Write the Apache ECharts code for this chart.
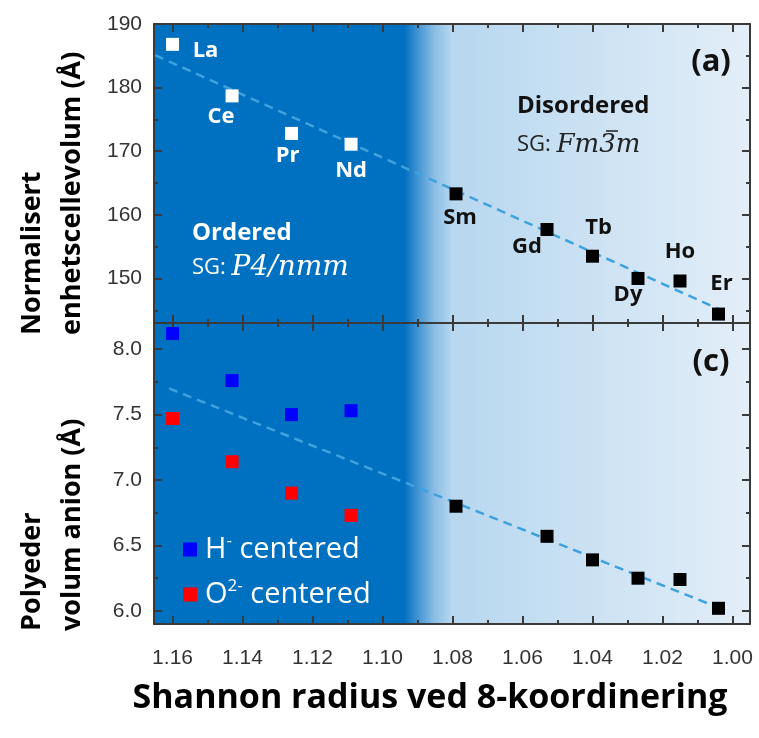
<!DOCTYPE html>
<html>
<head>
<meta charset="utf-8">
<script src="https://cdn.jsdelivr.net/npm/echarts@6/dist/echarts.min.js"></script>
<style>html,body{margin:0;padding:0;background:#fff}#c{width:759px;height:738px}</style>
</head>
<body>
<div id="c"></div>
<script>
// ---------------- data ----------------
const elements = ['La', 'Ce', 'Pr', 'Nd', 'Sm', 'Gd', 'Tb', 'Dy', 'Ho', 'Er'];
const shannonRadius = [1.160, 1.143, 1.126, 1.109, 1.079, 1.053, 1.040, 1.027, 1.015, 1.004];
const cellVolume = [186.8, 178.7, 172.8, 171.1, 163.3, 157.7, 153.5, 150.0, 149.6, 144.4];
const orderedCount = 4; // La..Nd are ordered (P4/nmm)

const hCentered = [8.12, 7.76, 7.50, 7.53];          // La..Nd
const oCentered = [7.47, 7.14, 6.90, 6.73];          // La..Nd
const anionDisordered = [6.80, 6.57, 6.39, 6.25, 6.24, 6.02]; // Sm..Er

const fitTopX = [1.165, 1.004];
const fitTopY = [185.1, 145.2];
const fitBottomX = [1.161, 1.0045];
const fitBottomY = [7.70, 6.03];

const xMajorTicks = [1.16, 1.14, 1.12, 1.10, 1.08, 1.06, 1.04, 1.02, 1.00];
const xMinorTicks = [1.15, 1.13, 1.11, 1.09, 1.07, 1.05, 1.03, 1.01];
const yTopMajorTicks = [150, 160, 170, 180, 190];
const yTopMinorTicks = [145, 155, 165, 175, 185];
const yBotMajorTicks = [6.0, 6.5, 7.0, 7.5, 8.0];
const yBotMinorTicks = [6.25, 6.75, 7.25, 7.75];

const xRange = [0.995, 1.1653];
const yTopRange = [143, 190];
const yBotRange = [5.9, 8.2];

// ---------------- styling / layout ----------------
const labelOffsets = {
  La: [33, 6], Ce: [-11, 21], Pr: [-4, 22], Nd: [0, 26], Sm: [4, 24],
  Gd: [-20, 17], Tb: [6, -28], Dy: [-10, 16], Ho: [0, -29], Er: [3, -30]
};
const AXIS_COLOR = '#3a3a3a';
const LABEL_FONT = 'Liberation Sans, Arial, sans-serif';
const TEXT_FONT = '"Open Sans", Lato, sans-serif';
const MATH_FONT = '"DejaVu Serif", "Liberation Serif", serif';
const fitColor = '#3ea2de';

const bgGradient = new echarts.graphic.LinearGradient(0, 0, 1, 0, [
  { offset: 0, color: '#0070c0' },
  { offset: 0.42, color: '#0070c0' },
  { offset: 0.435, color: '#2d88cd' },
  { offset: 0.47, color: '#8abde4' },
  { offset: 0.5, color: '#b7d7ef' },
  { offset: 1, color: '#e3eef8' }
]);

const tickLine = { color: AXIS_COLOR, width: 2 };

function xAxesFor(gi, showLabels) {
  const base = {
    gridIndex: gi, type: 'value', inverse: true, min: xRange[0], max: xRange[1],
    splitLine: { show: false }, axisLine: { show: false, onZero: false }
  };
  return [
    Object.assign({}, base, {
      position: 'bottom',
      axisLine: { show: true, onZero: false, lineStyle: tickLine },
      axisTick: { show: true, inside: true, length: 8, customValues: xMajorTicks, lineStyle: tickLine },
      axisLabel: { show: showLabels, customValues: xMajorTicks, margin: 24, formatter: v => v.toFixed(2),
        color: '#333', fontSize: 21, fontFamily: LABEL_FONT }
    }),
    Object.assign({}, base, {
      position: 'bottom',
      axisTick: { show: true, inside: true, length: 4, customValues: xMinorTicks, lineStyle: tickLine },
      axisLabel: { show: false }
    }),
    Object.assign({}, base, {
      position: 'top',
      axisLine: { show: true, onZero: false, lineStyle: tickLine },
      axisTick: { show: true, inside: true, length: 8, customValues: xMajorTicks, lineStyle: tickLine },
      axisLabel: { show: false }
    }),
    Object.assign({}, base, {
      position: 'top',
      axisTick: { show: true, inside: true, length: 4, customValues: xMinorTicks, lineStyle: tickLine },
      axisLabel: { show: false }
    })
  ];
}

function yAxesFor(gi, range, major, minor, digits) {
  const base = {
    gridIndex: gi, type: 'value', min: range[0], max: range[1], scale: true,
    splitLine: { show: false }, axisLine: { show: false, onZero: false }
  };
  return [
    Object.assign({}, base, {
      position: 'left',
      axisLine: { show: true, onZero: false, lineStyle: tickLine },
      axisTick: { show: true, inside: true, length: 8, customValues: major, lineStyle: tickLine },
      axisLabel: { show: true, customValues: major, margin: 12, formatter: v => v.toFixed(digits),
        color: '#333', fontSize: 21, fontFamily: LABEL_FONT }
    }),
    Object.assign({}, base, {
      position: 'left',
      axisTick: { show: true, inside: true, length: 4, customValues: minor, lineStyle: tickLine },
      axisLabel: { show: false }
    }),
    Object.assign({}, base, {
      position: 'right',
      axisLine: { show: true, onZero: false, lineStyle: tickLine },
      axisTick: { show: true, inside: true, length: 8, customValues: major, lineStyle: tickLine },
      axisLabel: { show: false }
    }),
    Object.assign({}, base, {
      position: 'right',
      axisTick: { show: true, inside: true, length: 4, customValues: minor, lineStyle: tickLine },
      axisLabel: { show: false }
    })
  ];
}

function pointItems(from, to, values, color) {
  const out = [];
  for (let i = from; i < to; i++) {
    out.push({
      value: [shannonRadius[i], values[i - from]],
      name: elements[i],
      label: { offset: labelOffsets[elements[i]], color: color }
    });
  }
  return out;
}

const pointLabel = {
  show: true, position: 'inside', formatter: p => p.name, opacity: 1,
  fontSize: 22, fontWeight: 'bold', fontFamily: TEXT_FONT
};

const orderedRadius = shannonRadius.slice(0, orderedCount);
const disorderedRadius = shannonRadius.slice(orderedCount);

const option = {
  animation: false,
  backgroundColor: '#ffffff',
  grid: [
    { left: 154, top: 24, width: 596, height: 299, show: true, backgroundColor: bgGradient, borderWidth: 0 },
    { left: 154, top: 323, width: 596, height: 301, show: true, backgroundColor: bgGradient, borderWidth: 0 }
  ],
  xAxis: [].concat(xAxesFor(0, false), xAxesFor(1, true)),
  yAxis: [].concat(
    yAxesFor(0, yTopRange, yTopMajorTicks, yTopMinorTicks, 0),
    yAxesFor(1, yBotRange, yBotMajorTicks, yBotMinorTicks, 1)
  ),
  legend: {
    data: ['H- centered', 'O2- centered'],
    orient: 'vertical', left: 178, top: 528,
    itemWidth: 14, itemHeight: 14, itemGap: 12, icon: 'rect',
    formatter: n => n === 'H- centered' ? 'H{sup|-} centered' : 'O{sup|2-} centered',
    textStyle: {
      color: '#ffffff', fontSize: 29, fontFamily: TEXT_FONT, lineHeight: 33, padding: [0, 0, 0, 3],
      rich: { sup: { fontSize: 17, color: '#ffffff', fontFamily: TEXT_FONT, verticalAlign: 'top', lineHeight: 19 } }
    }
  },
  series: [
    {
      type: 'line', xAxisIndex: 0, yAxisIndex: 0, silent: true, showSymbol: false, z: 2,
      data: fitTopX.map((x, i) => [x, fitTopY[i]]),
      lineStyle: { color: fitColor, width: 2.5, type: [9, 6] }
    },
    {
      type: 'scatter', name: 'ordered', xAxisIndex: 0, yAxisIndex: 0, z: 3,
      symbol: 'rect', symbolSize: 13, itemStyle: { color: '#ffffff', opacity: 1 },
      label: pointLabel,
      data: pointItems(0, orderedCount, cellVolume.slice(0, orderedCount), '#ffffff')
    },
    {
      type: 'scatter', name: 'disordered', xAxisIndex: 0, yAxisIndex: 0, z: 3,
      symbol: 'rect', symbolSize: 13, itemStyle: { color: '#000000', opacity: 1 },
      label: pointLabel,
      data: pointItems(orderedCount, elements.length, cellVolume.slice(orderedCount), '#111111')
    },
    {
      type: 'line', xAxisIndex: 4, yAxisIndex: 4, silent: true, showSymbol: false, z: 2,
      data: fitBottomX.map((x, i) => [x, fitBottomY[i]]),
      lineStyle: { color: fitColor, width: 2.5, type: [9, 6] }
    },
    {
      type: 'scatter', name: 'H- centered', xAxisIndex: 4, yAxisIndex: 4, z: 3,
      symbol: 'rect', symbolSize: 13, itemStyle: { color: '#0000ff', opacity: 1 },
      data: orderedRadius.map((x, i) => [x, hCentered[i]])
    },
    {
      type: 'scatter', name: 'O2- centered', xAxisIndex: 4, yAxisIndex: 4, z: 3,
      symbol: 'rect', symbolSize: 13, itemStyle: { color: '#ff0000', opacity: 1 },
      data: orderedRadius.map((x, i) => [x, oCentered[i]])
    },
    {
      type: 'scatter', name: 'anion disordered', xAxisIndex: 4, yAxisIndex: 4, z: 3,
      symbol: 'rect', symbolSize: 13, itemStyle: { color: '#000000', opacity: 1 },
      data: disorderedRadius.map((x, i) => [x, anionDisordered[i]])
    }
  ],
  graphic: [
    { type: 'text', x: 12, y: 335, rotation: Math.PI / 2, z: 10,
      style: { text: 'Normalisert\nenhetscellevolum (Å)', fill: '#000', font: 'bold 27px ' + TEXT_FONT,
        lineHeight: 40, align: 'left', verticalAlign: 'top' } },
    { type: 'text', x: 12, y: 631, rotation: Math.PI / 2, z: 10,
      style: { text: 'Polyeder\nvolum anion (Å)', fill: '#000', font: 'bold 27px ' + TEXT_FONT,
        lineHeight: 40, align: 'left', verticalAlign: 'top' } },
    { type: 'text', x: 430, y: 698, z: 10,
      style: { text: 'Shannon radius ved 8-koordinering', fill: '#000', font: 'bold 34px ' + TEXT_FONT,
        align: 'center', verticalAlign: 'middle' } },
    { type: 'text', x: 711, y: 62, z: 10,
      style: { text: '(a)', fill: '#111', font: 'bold 31px ' + TEXT_FONT, align: 'center', verticalAlign: 'middle' } },
    { type: 'text', x: 711, y: 362, z: 10,
      style: { text: '(c)', fill: '#111', font: 'bold 31px ' + TEXT_FONT, align: 'center', verticalAlign: 'middle' } },
    { type: 'text', x: 517, y: 106, z: 10,
      style: { text: 'Disordered', fill: '#111', font: 'bold 24px ' + TEXT_FONT, align: 'left', verticalAlign: 'middle' } },
    { type: 'text', x: 517, y: 145, z: 10,
      style: { text: 'SG: {it|Fm3m}', fill: '#222', font: '22px ' + TEXT_FONT, align: 'left', verticalAlign: 'middle',
        rich: { it: { fontFamily: MATH_FONT, fontStyle: 'italic', fontSize: 26, fill: '#222' } } } },
    { type: 'line', z: 10, shape: { x1: 606, y1: 131, x2: 618, y2: 131 },
      style: { stroke: '#222', lineWidth: 1.5 } },
    { type: 'text', x: 192, y: 233, z: 10,
      style: { text: 'Ordered', fill: '#fff', font: 'bold 24px ' + TEXT_FONT, align: 'left', verticalAlign: 'middle' } },
    { type: 'text', x: 192, y: 268, z: 10,
      style: { text: 'SG: {it|P4/nmm}', fill: '#fff', font: '22px ' + TEXT_FONT, align: 'left', verticalAlign: 'middle',
        rich: { it: { fontFamily: MATH_FONT, fontStyle: 'italic', fontSize: 28, fill: '#fff' } } } }
  ]
};

const chart = echarts.init(document.getElementById('c'), null, { renderer: 'canvas' });
chart.setOption(option);
</script>
</body>
</html>
